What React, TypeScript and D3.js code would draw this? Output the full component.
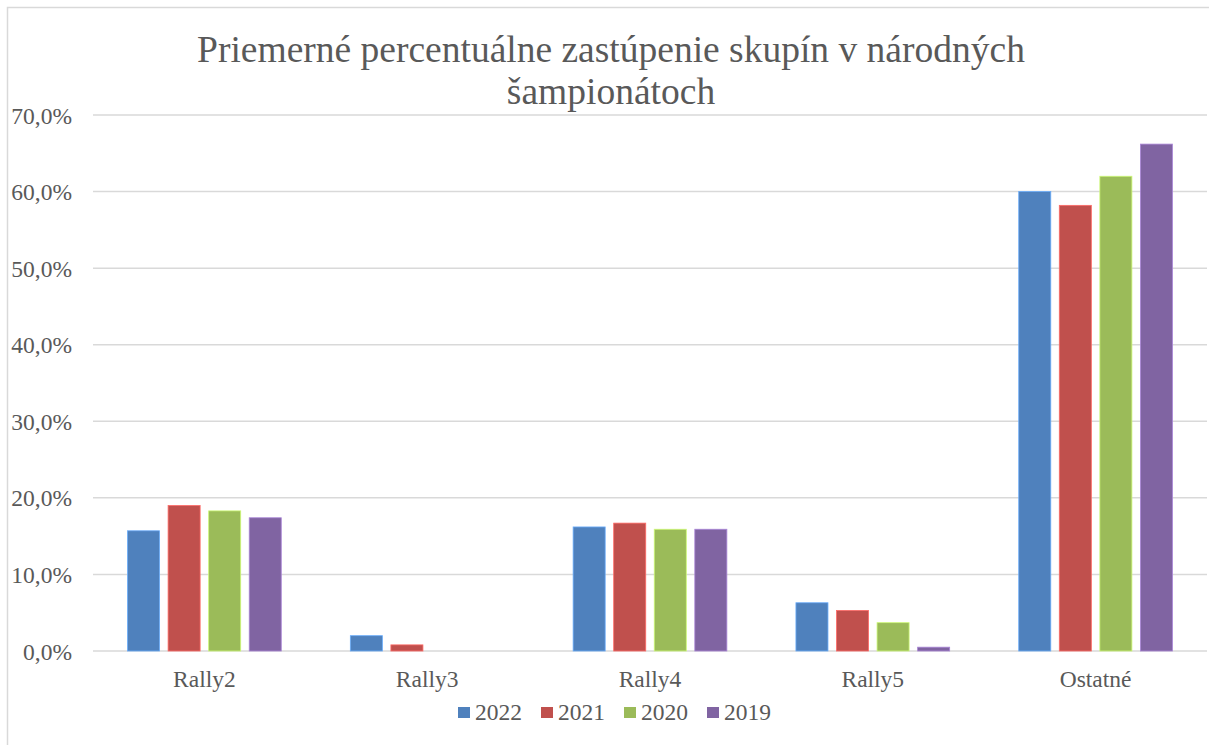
import React from "react";
import * as d3 from "d3";

const categories = ["Rally2", "Rally3", "Rally4", "Rally5", "Ostatné"];
const years = ["2022", "2021", "2020", "2019"];
const values2022 = [0.157, 0.020, 0.162, 0.063, 0.600];
const values2021 = [0.190, 0.008, 0.167, 0.053, 0.582];
const values2020 = [0.183, 0.0, 0.159, 0.037, 0.620];
const values2019 = [0.174, 0.0, 0.159, 0.005, 0.662];
const seriesValues = [values2022, values2021, values2020, values2019];
const colors = ["#4F81BD", "#C0504D", "#9BBB59", "#8064A2"];
const yTicks = [0, 0.1, 0.2, 0.3, 0.4, 0.5, 0.6, 0.7];
const titleLines = ["Priemerné percentuálne zastúpenie skupín v národných", "šampionátoch"];

const W = 1209;
const H = 745;
const FONT = "'Liberation Serif', 'Times New Roman', serif";
const TEXT = "#595959";

export default function App() {
  const x0 = d3.scaleBand<string>().domain(categories).range([93, 1207]).paddingInner(0.31).paddingOuter(0.155);
  const x1 = d3.scaleBand<string>().domain(years).range([0, x0.bandwidth()]).paddingInner(0.21).paddingOuter(0);
  const y = d3.scaleLinear().domain([0, 0.7]).range([651, 115]);
  const fmt = (v: number) => d3.format(".1f")(v * 100).replace(".", ",") + "%";

  return (
    <svg width={W} height={H} style={{ position: "absolute", left: 0, top: 0, background: "#fff" }}>
      <rect x={7.5} y={7.5} width={1240} height={780} fill="#fff" stroke="#d9d9d9" strokeWidth={1.5} />
      {titleLines.map((t, i) => (
        <text key={i} x={611} y={62 + i * 42} textAnchor="middle" fontFamily={FONT} fontSize={37.5} fill={TEXT}>
          {t}
        </text>
      ))}
      {yTicks.map((t) => (
        <g key={t}>
          <line x1={93} x2={1207} y1={y(t)} y2={y(t)} stroke="#d9d9d9" strokeWidth={1.5} />
          <text x={72} y={y(t) + 8.5} textAnchor="end" fontFamily={FONT} fontSize={23.5} fill={TEXT}>
            {fmt(t)}
          </text>
        </g>
      ))}
      {categories.map((c, ci) => (
        <g key={c}>
          {years.map((yr, si) => {
            const v = seriesValues[si][ci];
            if (v <= 0) return null;
            const bx = (x0(c) as number) + (x1(yr) as number);
            return (
              <rect
                key={yr}
                x={bx}
                y={y(v)}
                width={x1.bandwidth()}
                height={y(0) - y(v)}
                fill={colors[si]}
                stroke={d3.color(colors[si])!.brighter(0.8).formatHex()}
                strokeWidth={0.8}
              />
            );
          })}
          <text x={(x0(c) as number) + x0.bandwidth() / 2} y={687} textAnchor="middle" fontFamily={FONT} fontSize={23.5} fill={TEXT}>
            {c}
          </text>
        </g>
      ))}
      {years.map((yr, i) => (
        <g key={yr} transform={`translate(${458 + i * 83},0)`}>
          <rect x={0} y={707} width={12} height={11} fill={colors[i]} />
          <text x={17} y={720} fontFamily={FONT} fontSize={23.5} fill={TEXT}>
            {yr}
          </text>
        </g>
      ))}
    </svg>
  );
}
